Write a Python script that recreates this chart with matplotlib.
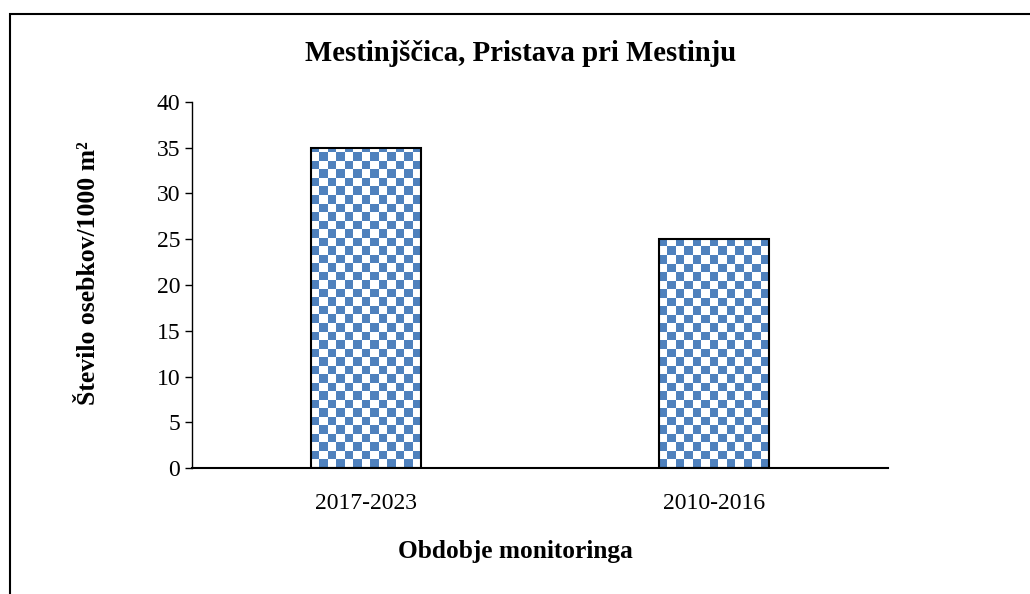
import matplotlib
matplotlib.use('Agg')
import matplotlib.pyplot as plt
import numpy as np
from matplotlib.colors import ListedColormap
from matplotlib.patches import Rectangle

periods = ['2017-2023', '2010-2016']
counts = [35, 25]
yticks = [0, 5, 10, 15, 20, 25, 30, 35, 40]

blue = '#4F81BD'

plt.rcParams['font.family'] = ['Liberation Serif', 'DejaVu Serif']

fig = plt.figure(figsize=(10.3, 5.94), dpi=100)
ax = fig.add_axes([0.1864, 0.2121, 0.6757, 0.6162])

x = np.arange(len(periods))
bars = ax.bar(x, counts, width=0.316, facecolor='none', edgecolor='black',
              linewidth=1.5, zorder=3)
ax.set_xlim(-0.5, 1.5)
ax.set_ylim(0, 40)

# checkerboard fill (cells about 8.5 px), clipped to each bar
ncols, nrows = 82, 43
checker = (np.indices((nrows, ncols)).sum(axis=0) % 2).astype(float)
cmap = ListedColormap(['white', blue])
for b in bars:
    im = ax.imshow(checker, cmap=cmap, extent=(-0.5, 1.5, 0, 40),
                   origin='lower', aspect='auto', interpolation='nearest', zorder=2)
    im.set_clip_path(b)
ax.set_xlim(-0.5, 1.5)
ax.set_ylim(0, 40)

ax.set_xticks(x)
ax.set_xticklabels(periods, fontsize=17)
ax.set_yticks(yticks)
ax.tick_params(axis='y', labelsize=17, direction='out', length=5, width=1)
ax.tick_params(axis='x', length=0, pad=18)

for s in ['top', 'right']:
    ax.spines[s].set_visible(False)
ax.spines['left'].set_linewidth(1)
ax.spines['bottom'].set_linewidth(1.5)

fig.text(0.505, 0.91, 'Mestinjščica, Pristava pri Mestinju', ha='center', va='center',
         fontsize=20.7, fontweight='bold')
fig.text(0.5, 0.072, 'Obdobje monitoringa', ha='center', va='center',
         fontsize=18.3, fontweight='bold')
fig.text(0.086, 0.541, 'Število osebkov/1000 m²', ha='center', va='center',
         rotation=90, fontsize=18.5, fontweight='bold')

# outer frame, open to the right and bottom edges
fig.patches.append(Rectangle((9.5 / 1030, -0.05), 1.2, 1.05 - 13.5 / 594,
                             transform=fig.transFigure, fill=False,
                             edgecolor='black', linewidth=1.5))

fig.savefig('out.png', dpi=100)
